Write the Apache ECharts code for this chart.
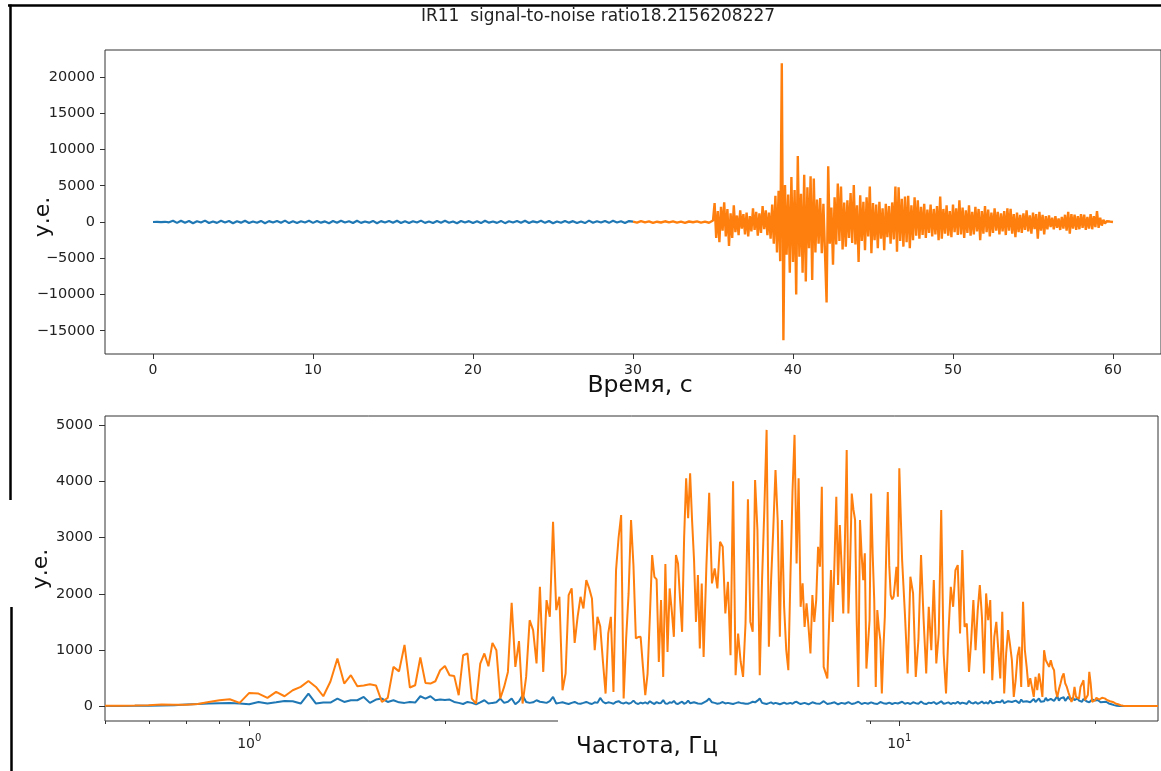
<!DOCTYPE html>
<html>
<head>
<meta charset="utf-8">
<script src="https://cdn.jsdelivr.net/npm/echarts@6/dist/echarts.min.js"></script>
<style>
html,body{margin:0;padding:0;background:#fff;}
#chart{width:1161px;height:771px;}
</style>
</head>
<body>
<div id="chart"></div>
<script>
// ---------------- DATA ----------------
const titleText = 'IR11  signal-to-noise ratio18.2156208227';
const timeLabel = 'Время, с';
const freqLabel = 'Частота, Гц';
const ampLabel = 'у.е.';

const timeTicks = [0, 10, 20, 30, 40, 50, 60];
const ampTicks = [-15000, -10000, -5000, 0, 5000, 10000, 15000, 20000];
const specTicks = [0, 1000, 2000, 3000, 4000, 5000];
const freqMajorTicks = [1, 10];
const freqMinorTicks = [0.6, 0.7, 0.8, 0.9, 2, 3, 4, 5, 6, 7, 8, 9, 20];

// noise window (blue), 0..30 s, step 0.25 s
const noiseStart = 0, noiseStep = 0.25;
const noiseValues = [
  0, 10, -20, 30, -40, 160, -120, 180,
  -90, 140, -160, 110, -70, 190, -140, 80,
  -120, 160, -60, 130, -180, 100, -90, 170,
  -130, 60, -110, 150, -170, 120, -80, 140,
  -100, 190, -150, 90, -130, 110, -60, 170,
  -120, 150, -90, 80, -160, 130, -110, 180,
  -70, 100, -140, 160, -120, 70, -90, 150,
  -180, 120, -60, 140, -100, 170, -130, 90,
  -150, 110, -80, 190, -120, 60, -140, 130,
  -90, 160, -110, 80, -170, 140, -70, 120,
  -130, 100, -150, 180, -90, 70, -120, 150,
  -160, 110, -80, 130, -100, 170, -140, 90,
  -60, 160, -120, 140, -180, 80, -110, 150,
  -90, 120, -130, 70, -150, 190, -100, 110,
  -80, 140, -120, 160, -70, 100, -140, 130,
  60
];

// signal window (orange), quiet part 30..34.75 s step 0.25 s
const quietStart = 30, quietStep = 0.25;
const quietValues = [60, -80, 110, -50, 90, -120, 40, -70, 100, -60, 80, -90, 50, -110, 70, -40, 90, -80, 60, -100];

// signal window (orange), event part 35..60 s step 0.1 s
const eventStart = 35, eventStep = 0.1;
const eventValues = [
  200, 2600, -2200, 1500, -2800, 2100, -1200, 2700, -2000, 1800,      // 35
  -3300, 1200, -2200, 2300, -1400, 900, -1800, 1600, -900, 1100,      // 36
  -1700, 1300, -2000, 800, -1300, 1900, -1100, 1400, -1900, 1200,     // 37
  -1500, 2200, -1000, 1600, -1800, 1300, -2300, 2400, -3000, 3600,    // 38
  -4200, 4300, -5400, 21900, -16300, 5100, -4500, 3800, -7000, 6200,  // 39
  -5500, 4400, -10000, 9100, -4800, 3900, -7000, 6500, -8200, 4800,   // 40
  -3600, 6300, -8000, 6000, -4200, 3100, -3000, 3300, -4300, 2500,    // 41
  2400, -11100, 7700, -3000, 2000, -5900, 3400, -3100, 5300, -2600,   // 42
  4900, -3800, 2700, -3400, 3000, -2200, 4000, -2900, 5100, -3100,    // 43
  2300, -5500, 3700, -2600, 2800, -3900, 3400, -2000, 4900, -4300,    // 44
  2600, -2500, 2400, -3600, 2800, -2300, 1900, -3900, 2500, -2100,    // 45
  2200, -3000, 2700, -2400, 4900, -4100, 4800, -2600, 3200, -3400,    // 46
  3500, -2800, 3600, -3600, 2300, -2500, 3400, -1900, 3000, -2300,    // 47
  2100, -1800, 2500, -2200, 1700, -1500, 2400, -2000, 1800, -1700,    // 48
  2200, -2500, 3500, -2300, 1800, -1600, 2300, -1900, 1500, -2100,    // 49
  2400, -1400, 1900, -1800, 3000, -1700, 2000, -2200, 1600, -1500,    // 50
  2300, -1900, 1400, -1700, 2100, -1300, 1800, -2500, 1500, -1600,    // 51
  2200, -1400, 1700, -2000, 1300, -1500, 1900, -1200, 1400, -1700,    // 52
  1200, -1300, 1500, -1800, 1900, -1200, 1800, -1600, 1100, -2100,    // 53
  1300, -1400, 1000, -1500, 1200, -1100, 1600, -1300, 900, -1600,     // 54
  1300, -1000, 1100, -2300, 1400, -1200, 1000, -1700, 800, -1000,     // 55
  900, -700, 600, -1000, 800, -800, 500, -1100, 700, -900,            // 56
  1000, -1200, 1400, -1600, 1100, -900, 1000, -1100, 800, -1000,      // 57
  1100, -800, 1000, -1100, 700, -900, 1100, -1000, 800, -700,         // 58
  1500, -800, 600, -500, 300, -200, 100, -80, 60, -40,                // 59
  0                                                                   // 60
];

// spectra: low part = bins k/30 Hz, k = 18..150 (0.6..5.0 Hz)
const specLowFirstBin = 18, specBinsPerHz = 30;
// mid part = 5.05..10.0 Hz, step 0.05 Hz
const specMidStart = 5.05, specMidStep = 0.05;
// high part = 10.1..25.0 Hz, step 0.1 Hz
const specHighStart = 10.1, specHighStep = 0.1;

const noiseSpecLow = [
  5, 6, 8, 10, 15, 20, 30, 40, 50, 55,            // k18-27
  60, 48, 35, 77, 48, 70, 95, 90, 48, 226,        // k28-37
  48, 65, 65, 137, 77, 107, 107, 166, 60, 120,    // k38-47
  137, 77, 107, 70, 60, 75, 65, 178, 137, 178,    // k48-57
  107, 120, 110, 120, 77, 60, 40, 77, 60, 35,     // k58-67
  70, 107, 48, 60, 70, 137, 60, 80, 137, 35,      // k68-77
  90, 196, 77, 60, 70, 107, 80, 70, 60, 90,       // k78-87
  166, 50, 60, 70, 55, 40, 60, 77, 50, 45,        // k88-97
  60, 77, 55, 40, 70, 60, 148, 80, 50, 70,        // k98-107
  60, 45, 77, 90, 60, 50, 70, 45, 60, 100,        // k108-117
  55, 40, 65, 50, 70, 45, 90, 60, 40, 75,         // k118-127
  55, 60, 110, 50, 45, 70, 60, 95, 50, 40,        // k128-137
  65, 80, 45, 60, 100, 55, 45, 70, 60, 50,        // k138-147
  80, 45, 60                                      // k148-150
];
const noiseSpecMid = [
  90, 137, 70, 60, 45, 55, 75, 50, 60, 50,        // 5.05-5.5
  40, 55, 70, 60, 55, 45, 45, 60, 80, 70,         // 5.55-6.0
  100, 137, 60, 50, 40, 55, 70, 45, 60, 50,       // 6.05-6.5
  35, 50, 65, 45, 50, 60, 45, 70, 80, 55,         // 6.55-7.0
  40, 60, 60, 45, 35, 50, 70, 55, 50, 40,         // 7.05-7.5
  45, 70, 90, 60, 40, 50, 55, 45, 70, 50,         // 7.55-8.0
  35, 55, 60, 40, 45, 65, 75, 50, 40, 60,         // 8.05-8.5
  55, 45, 80, 60, 40, 55, 60, 45, 45, 65,         // 8.55-9.0
  70, 50, 50, 40, 40, 60, 75, 50, 55, 40,         // 9.05-9.5
  45, 60, 65, 50, 40, 55, 60, 45, 50, 70          // 9.55-10.0
];
const noiseSpecHigh = [
  80, 45, 60, 40, 70, 55, 45, 85, 50, 40,         // 10.1-11.0
  65, 55, 75, 40, 60, 90, 45, 55, 70, 40,         // 11.1-12.0
  60, 50, 80, 45, 65, 55, 40, 95, 60, 50,         // 12.1-13.0
  75, 45, 60, 85, 50, 70, 45, 100, 55, 60,        // 13.1-14.0
  80, 50, 70, 110, 55, 65, 90, 60, 75, 60,        // 14.1-15.0
  100, 70, 55, 120, 80, 65, 90, 110, 70, 85,      // 15.1-16.0
  130, 75, 95, 140, 80, 110, 90, 150, 100, 85,    // 16.1-17.0
  130, 165, 95, 120, 180, 100, 140, 110, 160, 95, // 17.1-18.0
  130, 170, 120, 100, 150, 110, 90, 140, 100, 120,// 18.1-19.0
  80, 130, 100, 90, 110, 70, 100, 120, 85, 100,   // 19.1-20.0
  80, 110, 90, 70, 95, 75, 60, 80, 55, 50,        // 20.1-21.0
  40, 35, 25, 20, 15, 10, 8, 6, 5, 5,             // 21.1-22.0
  5, 5, 5, 5, 5, 5, 5, 5, 5, 5,                   // 22.1-23.0
  5, 5, 5, 5, 5, 5, 5, 5, 5, 5,                   // 23.1-24.0
  5, 5, 5, 5, 5, 5, 5, 5, 5, 5                    // 24.1-25.0
];

const signalSpecLow = [
  8, 10, 12, 18, 30, 25, 25, 40, 76, 107,                 // k18-27
  125, 60, 237, 225, 148, 255, 178, 285, 344, 450,        // k28-37
  344, 178, 440, 850, 404, 552, 356, 370, 390, 370,       // k38-47
  76, 148, 700, 620, 1090, 333, 374, 866, 415, 404,       // k48-57
  445, 640, 717, 552, 540, 196, 907, 937, 137, 48,        // k58-67
  760, 938, 712, 1127, 997, 137, 344, 611, 1840, 700,     // k68-77
  1157, 48, 522, 1530, 1353, 760, 2123, 611, 1887, 1590,  // k78-87
  3280, 1709, 1946, 285, 582, 1976, 2095, 1127, 1590, 1946, // k88-97
  1739, 2243, 2100, 1917, 997, 1590, 1424, 800, 226, 1294,  // k98-107
  1590, 255, 2420, 3000, 3400, 137, 1200, 2006, 3311, 2500, // k108-117
  1205, 1230, 1234, 700, 196, 582, 1600, 2688, 2302, 2254,  // k118-127
  789, 1887, 522, 2528, 967, 2095, 1700, 1234, 2688, 2540,  // k128-137
  1900, 1323, 3000, 4053, 3341, 4142, 3300, 2600, 1500, 2332, // k138-147
  1027, 2184, 878                                           // k148-150
];
const signalSpecMid = [
  2510, 3797, 2184, 2451, 2095, 2925, 2836, 1650, 2213, 908,   // 5.05-5.5
  4000, 552, 1294, 800, 522, 1472, 3679, 1500, 1323, 4023,     // 5.55-6.0
  3133, 552, 2243, 3500, 4913, 1057, 2243, 3163, 4200, 3311,   // 6.05-6.5
  1234, 3311, 1768, 1000, 640, 2302, 3800, 4824, 2540, 4053,   // 6.55-7.0
  1768, 2184, 1412, 1828, 1412, 938, 1976, 1500, 1887, 2836,   // 7.05-7.5
  2480, 3903, 700, 700, 493, 1500, 2420, 1500, 2600, 3726,     // 7.55-8.0
  2155, 3222, 2500, 1650, 3000, 4557, 1650, 2500, 3780, 3500,  // 8.05-8.5
  3311, 1500, 344, 3311, 2700, 2243, 2718, 670, 1100, 1530,    // 8.55-9.0
  3780, 2700, 1887, 344, 1709, 1400, 1175, 226, 1000, 1590,    // 9.05-9.5
  2800, 3810, 2500, 1976, 1900, 1946, 2200, 2480, 1946, 4230   // 9.55-10.0
];
const signalSpecHigh = [
  2600, 1650, 582, 2302, 2006, 522, 1175, 2688, 1530, 582,    // 10.1-11.0
  1768, 997, 2243, 760, 1294, 3489, 938, 226, 1294, 2123,     // 11.1-12.0
  1768, 2420, 2510, 1294, 2777, 1412, 1472, 611, 1175, 1887,  // 12.1-13.0
  997, 1700, 2154, 1590, 582, 2006, 1530, 1887, 463, 1234,    // 13.1-14.0
  1500, 1530, 493, 1680, 226, 938, 1353, 1100, 819, 166,      // 14.1-15.0
  463, 900, 1057, 344, 1857, 1000, 700, 344, 500, 522,        // 15.1-16.0
  166, 522, 285, 582, 400, 166, 997, 819, 760, 700,           // 16.1-17.0
  819, 700, 641, 285, 166, 300, 404, 520, 582, 404,           // 17.1-18.0
  344, 250, 166, 77, 137, 344, 166, 150, 137, 344,            // 18.1-19.0
  400, 463, 107, 137, 200, 611, 400, 77, 100, 107,            // 19.1-20.0
  150, 166, 120, 137, 150, 166, 140, 120, 107, 100,           // 20.1-21.0
  90, 80, 77, 60, 50, 45, 35, 25, 18, 12,                     // 21.1-22.0
  8, 6, 5, 5, 5, 5, 5, 5, 5, 5,                               // 22.1-23.0
  5, 5, 5, 5, 5, 5, 5, 5, 5, 5,                               // 23.1-24.0
  5, 5, 5, 5, 5, 5, 5, 5, 5, 5                                // 24.1-25.0
];

// ---------------- BUILD ----------------
const BLUE = '#1f77b4', ORANGE = '#ff7f0e', INK = '#222', SPINE = '#333';
const FONT = 'DejaVu Sans';

function seq(start, step, vals) {
  return vals.map((v, i) => [+(start + i * step).toFixed(4), v]);
}
function specLow(vals) {
  return vals.map((v, i) => [(specLowFirstBin + i) / specBinsPerHz, v]);
}
const noiseWave = seq(noiseStart, noiseStep, noiseValues);
const signalWave = seq(quietStart, quietStep, quietValues).concat(seq(eventStart, eventStep, eventValues));
const noiseSpec = specLow(noiseSpecLow)
  .concat(seq(specMidStart, specMidStep, noiseSpecMid))
  .concat(seq(specHighStart, specHighStep, noiseSpecHigh));
const signalSpec = specLow(signalSpecLow)
  .concat(seq(specMidStart, specMidStep, signalSpecMid))
  .concat(seq(specHighStart, specHighStep, signalSpecHigh));

const minusFmt = v => String(v).replace('-', '\u2212');

const chart = echarts.init(document.getElementById('chart'), null, {renderer: 'canvas'});

const option = {
  animation: false,
  backgroundColor: '#fff',
  grid: [
    {left: 105, top: 50, width: 1062, height: 304, show: true, borderColor: SPINE, borderWidth: 1, backgroundColor: 'transparent'},
    {left: 105, top: 416, width: 1062, height: 305, show: true, borderColor: SPINE, borderWidth: 1, backgroundColor: 'transparent'}
  ],
  xAxis: [
    {
      gridIndex: 0, type: 'value', min: -3, max: 63,
      axisLine: {show: false, onZero: false}, splitLine: {show: false},
      axisTick: {show: true, length: 5, lineStyle: {color: SPINE}, customValues: timeTicks},
      axisLabel: {customValues: timeTicks, fontFamily: FONT, fontSize: 14, color: INK, margin: 9}
    },
    {
      gridIndex: 1, type: 'log', logBase: 10, min: 0.6, max: 25,
      axisLine: {show: false, onZero: false}, splitLine: {show: false}, axisTick: {show: false},
      minorTick: {show: false}, minorSplitLine: {show: false},
      axisLabel: {
        margin: 12, fontFamily: FONT, color: INK,
        formatter: v => {
          const e = Math.log10(v);
          if (Math.abs(e - Math.round(e)) > 1e-6) return '';
          return '{b|10}{s|' + Math.round(e) + '}';
        },
        rich: {
          b: {fontFamily: FONT, fontSize: 14, color: INK, lineHeight: 18, verticalAlign: 'bottom'},
          s: {fontFamily: FONT, fontSize: 10, color: INK, lineHeight: 10, verticalAlign: 'top'}
        }
      }
    }
  ],
  yAxis: [
    {
      gridIndex: 0, type: 'value', min: -18207, max: 23724,
      axisLine: {show: false, onZero: false}, splitLine: {show: false},
      axisTick: {show: true, length: 5, lineStyle: {color: SPINE}, customValues: ampTicks},
      axisLabel: {customValues: ampTicks, formatter: minusFmt, fontFamily: FONT, fontSize: 14.5, color: INK, margin: 10}
    },
    {
      gridIndex: 1, type: 'value', min: -262, max: 5160,
      axisLine: {show: false, onZero: false}, splitLine: {show: false},
      axisTick: {show: true, length: 6, lineStyle: {color: SPINE}, customValues: specTicks},
      axisLabel: {customValues: specTicks, formatter: minusFmt, fontFamily: FONT, fontSize: 14.5, color: INK, margin: 12}
    }
  ],
  series: [
    {type: 'line', name: 'noise', xAxisIndex: 0, yAxisIndex: 0, data: noiseWave, showSymbol: false, symbol: 'none',
     lineStyle: {color: BLUE, width: 2.2}, itemStyle: {color: BLUE}, z: 2},
    {type: 'line', name: 'signal', xAxisIndex: 0, yAxisIndex: 0, data: signalWave, showSymbol: false, symbol: 'none',
     lineStyle: {color: ORANGE, width: 2.4}, itemStyle: {color: ORANGE}, z: 3},
    {type: 'line', name: 'noise spectrum', xAxisIndex: 1, yAxisIndex: 1, data: noiseSpec, showSymbol: false, symbol: 'none',
     lineStyle: {color: BLUE, width: 2}, itemStyle: {color: BLUE}, z: 2},
    {type: 'line', name: 'signal spectrum', xAxisIndex: 1, yAxisIndex: 1, data: signalSpec, showSymbol: false, symbol: 'none',
     lineStyle: {color: ORANGE, width: 2}, itemStyle: {color: ORANGE}, z: 3}
  ]
};
chart.setOption(option);

// ticks for the log axis (major + minor, matplotlib style) through the axis scale
const gfx = [];
const yBottom = chart.convertToPixel({gridIndex: 1}, [1, -262])[1];
freqMajorTicks.forEach(f => {
  const x = Math.round(chart.convertToPixel({gridIndex: 1}, [f, 0])[0]) + 0.5;
  gfx.push({type: 'line', z: 50, shape: {x1: x, y1: yBottom, x2: x, y2: yBottom + 5}, style: {stroke: SPINE, lineWidth: 1}});
});
freqMinorTicks.forEach(f => {
  const x = Math.round(chart.convertToPixel({gridIndex: 1}, [f, 0])[0]) + 0.5;
  gfx.push({type: 'line', z: 50, shape: {x1: x, y1: yBottom, x2: x, y2: yBottom + 3}, style: {stroke: SPINE, lineWidth: 1}});
});
// white patch over part of the lower axis (as in the reference image)
gfx.push({type: 'rect', z: 60, shape: {x: 558, y: 716, width: 308, height: 20}, style: {fill: '#fff'}});
// outer frame fragments
gfx.push({type: 'line', z: 70, shape: {x1: 8, y1: 5.5, x2: 1161, y2: 5.5}, style: {stroke: '#000', lineWidth: 2.5}});
gfx.push({type: 'line', z: 70, shape: {x1: 10.5, y1: 4.5, x2: 10.5, y2: 500}, style: {stroke: '#000', lineWidth: 2.5}});
gfx.push({type: 'line', z: 70, shape: {x1: 11.5, y1: 607, x2: 11.5, y2: 771}, style: {stroke: '#000', lineWidth: 2.5}});
// texts
gfx.push({type: 'text', z: 80, x: 598, y: 17, style: {text: titleText, fontFamily: FONT, fontSize: 17, fill: INK, align: 'center', verticalAlign: 'middle'}});
gfx.push({type: 'text', z: 80, x: 640, y: 386, style: {text: timeLabel, fontFamily: FONT, fontSize: 23.5, fill: '#111', align: 'center', verticalAlign: 'middle'}});
gfx.push({type: 'text', z: 80, x: 647, y: 747, style: {text: freqLabel, fontFamily: FONT, fontSize: 23, fill: '#111', align: 'center', verticalAlign: 'middle'}});
gfx.push({type: 'text', z: 80, x: 43, y: 217, rotation: Math.PI / 2, style: {text: ampLabel, fontFamily: FONT, fontSize: 22, fill: '#111', align: 'center', verticalAlign: 'middle'}});
gfx.push({type: 'text', z: 80, x: 41, y: 569, rotation: Math.PI / 2, style: {text: ampLabel, fontFamily: FONT, fontSize: 22, fill: '#111', align: 'center', verticalAlign: 'middle'}});
chart.setOption({graphic: gfx});
</script>
</body>
</html>
